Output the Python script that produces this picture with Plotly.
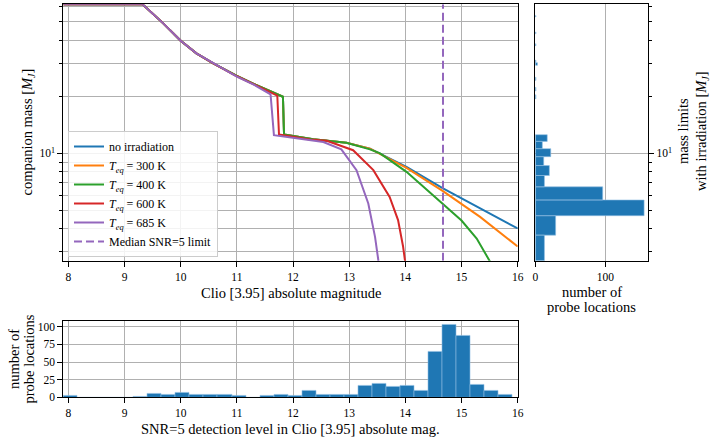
import plotly.graph_objects as go

W, H = 713, 441

# mass limit curves: Clio [3.95] absolute magnitude -> companion mass [M_J]
mag_no_irr = [7.91, 9.32, 9.69, 10.0, 10.28, 10.58, 11.0, 11.3, 11.82, 11.84,
              12.36, 12.95, 13.37, 14.02, 14.67, 15.33, 16.0]
mass_no_irr = [62, 62, 49.1, 39.7, 34.0, 30.1, 25.8, 23.4, 20.0, 12.6,
               11.9, 11.4, 10.6, 8.49, 6.51, 5.10, 3.99]

mag_300 = [7.91, 9.32, 9.69, 10.0, 10.28, 10.58, 11.0, 11.3, 11.82, 11.84,
           12.36, 12.95, 13.37, 14.02, 14.67, 15.0, 15.33, 16.0]
mass_300 = [62, 62, 49.1, 39.7, 34.0, 30.1, 25.8, 23.4, 20.0, 12.6,
            11.9, 11.4, 10.6, 8.38, 6.30, 5.40, 4.60, 3.20]

mag_400 = [7.91, 9.32, 9.69, 10.0, 10.28, 10.58, 11.0, 11.3, 11.82, 11.84,
           12.36, 12.95, 13.37, 13.55, 14.02, 14.67, 15.0, 15.27, 15.52]
mass_400 = [62, 62, 49.1, 39.7, 34.0, 30.1, 25.8, 23.4, 20.0, 12.6,
            11.9, 11.4, 10.5, 10.0, 7.98, 5.35, 4.40, 3.53, 2.62]

mag_600 = [7.91, 9.32, 9.69, 10.0, 10.28, 10.58, 11.0, 11.3, 11.72, 11.75,
           12.30, 12.6, 13.07, 13.43, 13.72, 13.87, 13.96, 14.0]
mass_600 = [62, 62, 49.1, 39.7, 34.0, 30.1, 25.7, 23.3, 20.3, 12.6,
            11.87, 11.67, 10.4, 8.15, 5.87, 4.42, 3.19, 2.6]

mag_685 = [7.91, 9.32, 9.69, 10.0, 10.28, 10.58, 11.0, 11.3, 11.60, 11.66,
           12.30, 12.54, 12.86, 13.13, 13.34, 13.46, 13.52, 13.55]
mass_685 = [62, 62, 49.1, 39.7, 34.0, 30.1, 25.6, 23.2, 20.6, 12.5,
            11.8, 11.5, 10.5, 8.15, 5.42, 3.60, 2.69, 2.5]

median_snr5_limit = 14.67

# SNR=5 detection level histogram, 32 bins of 0.25 mag from 7.91
snr_bin_start = 7.91
snr_bin_width = 0.25
snr_counts = [2, 0, 0, 0, 0, 1, 5, 3, 6, 3, 4, 4, 2, 0, 2, 3,
              2, 9, 4, 3, 3, 16, 19, 15, 16, 9, 65, 103, 87, 18, 10, 4]

# mass limits with irradiation histogram, 60 bins from 2.69 M_J
mass_bin_start = 2.69
mass_bin_width = 0.988
mass_counts = [13, 29, 155, 96, 13, 20, 12, 22, 10, 17,
               0, 0, 0, 0, 0, 0, 0, 1, 0, 1,
               0, 0, 1, 0, 0, 0, 0, 3, 1, 0,
               0, 0, 0, 0, 0, 1, 0, 0, 0, 0,
               0, 1, 0, 0, 0, 0, 0, 0, 0, 0,
               0, 1, 0, 0, 0, 0, 0, 0, 0, 0]

mass_range = [2.69, 62.0]
mag_range = [7.91, 16.0]

FONT = "Liberation Serif"
BLUE = "#1f77b4"
GRID = "#b0b0b0"

curves = [
    ("no irradiation", mag_no_irr, mass_no_irr, "#1f77b4"),
    ("<i>T<sub>eq</sub></i> = 300 K", mag_300, mass_300, "#ff7f0e"),
    ("<i>T<sub>eq</sub></i> = 400 K", mag_400, mass_400, "#2ca02c"),
    ("<i>T<sub>eq</sub></i> = 600 K", mag_600, mass_600, "#d62728"),
    ("<i>T<sub>eq</sub></i> = 685 K", mag_685, mass_685, "#9467bd"),
]

fig = go.Figure()

for name, xs, ys, col in curves:
    fig.add_trace(go.Scatter(x=xs, y=ys, mode="lines", name=name,
                             line=dict(color=col, width=2),
                             xaxis="x", yaxis="y"))

fig.add_trace(go.Scatter(x=[median_snr5_limit, median_snr5_limit], y=mass_range,
                         mode="lines", name="Median SNR=5 limit",
                         line=dict(color="#9467bd", width=2, dash="8px,4px"),
                         xaxis="x", yaxis="y"))

# horizontal histogram on the log mass axis, drawn as filled rectangles
hx, hy = [], []
for i, c in enumerate(mass_counts):
    if c == 0:
        continue
    lo = mass_bin_start + i * mass_bin_width
    hi = lo + mass_bin_width
    hx += [0, c, c, 0, 0, None]
    hy += [lo, lo, hi, hi, lo, None]
fig.add_trace(go.Scatter(x=hx, y=hy, mode="lines", fill="toself",
                         fillcolor=BLUE, line=dict(color="#8fbde3", width=0.6),
                         showlegend=False, hoverinfo="skip",
                         xaxis="x2", yaxis="y2"))

snr_centers = [snr_bin_start + (i + 0.5) * snr_bin_width for i in range(len(snr_counts))]
fig.add_trace(go.Bar(x=snr_centers, y=snr_counts, width=snr_bin_width,
                     marker=dict(color=BLUE, line=dict(color="#8fbde3", width=0.6)),
                     showlegend=False, xaxis="x3", yaxis="y3"))


def px_x(p):
    return p / W


def px_y(p):
    return 1 - p / H


tickfont = dict(family=FONT, size=11.5, color="black")
common = dict(showline=True, linecolor="black", linewidth=1, mirror=True,
              ticks="outside", ticklen=5, tickwidth=1, tickcolor="black",
              tickfont=tickfont, gridcolor=GRID, gridwidth=1, zeroline=False,
              automargin=False)

minor_mass = [3, 4, 5, 6, 7, 8, 9, 20, 30, 40, 50, 60]
log_range = [0.42975, 1.79239]

fig.update_layout(
    width=W, height=H,
    margin=dict(l=0, r=0, t=0, b=0),
    paper_bgcolor="white", plot_bgcolor="white",
    font=dict(family=FONT, color="black"),
    bargap=0,
    xaxis=dict(domain=[px_x(63.3), px_x(517.7)], anchor="y", range=mag_range,
               tickmode="array", tickvals=list(range(8, 17)), showgrid=True, **common),
    yaxis=dict(domain=[px_y(260.7), px_y(4.3)], anchor="x", type="log", range=log_range,
               tickmode="array", tickvals=[10], ticktext=["10<sup>1</sup>"], showgrid=True,
               minor=dict(tickmode="array", tickvals=minor_mass, ticks="outside", ticklen=3,
                          tickcolor="black", showgrid=True, gridcolor=GRID, gridwidth=1),
               **common),
    xaxis2=dict(domain=[px_x(535.3), px_x(648.3)], anchor="y2", range=[0, 161],
                tickmode="array", tickvals=[0, 100], showgrid=True, **common),
    yaxis2=dict(domain=[px_y(260.7), px_y(4.3)], anchor="x2", side="right", type="log",
                range=log_range, tickmode="array", tickvals=[10], ticktext=["10<sup>1</sup>"],
                showgrid=True,
                minor=dict(tickmode="array", tickvals=minor_mass, ticks="outside", ticklen=3,
                           tickcolor="black", showgrid=False),
                **common),
    xaxis3=dict(domain=[px_x(63.3), px_x(517.7)], anchor="y3", range=mag_range,
                tickmode="array", tickvals=list(range(8, 17)), showgrid=True, **common),
    yaxis3=dict(domain=[px_y(397.3), px_y(320.7)], anchor="x3", range=[0, 108.5],
                tickmode="array", tickvals=[0, 25, 50, 75, 100], showgrid=True, **common),
    legend=dict(x=px_x(68), y=px_y(257), xanchor="left", yanchor="bottom",
                bgcolor="rgba(255,255,255,0.85)", bordercolor="#cccccc", borderwidth=1,
                font=dict(family=FONT, size=12, color="black"),
                itemwidth=30, tracegroupgap=0),
)

title_font = dict(family=FONT, size=14.5, color="black")
titles = [
    ("Clio [3.95] absolute magnitude", 290.5, 293, 0),
    ("companion mass [<i>M<sub>J</sub></i>]", 27, 132.5, -90),
    ("mass limits", 683, 131, -90),
    ("with irradiation [<i>M<sub>J</sub></i>]", 702, 131, -90),
    ("number of", 591.8, 291.5, 0),
    ("probe locations", 591.8, 306.5, 0),
    ("SNR=5 detection level in Clio [3.95] absolute mag.", 290.5, 428.5, 0),
    ("number of", 14, 359, -90),
    ("probe locations", 28.5, 359, -90),
]
for text, x, y, ang in titles:
    fig.add_annotation(text=text, x=px_x(x), y=px_y(y), xref="paper", yref="paper",
                       xanchor="center", yanchor="middle", showarrow=False,
                       textangle=ang, font=title_font)

# the page is photographed at exactly the figure size, so drop the default body margin
fig.write_html("out.html", config={"displayModeBar": False},
               post_script="document.body.style.margin='0';")
